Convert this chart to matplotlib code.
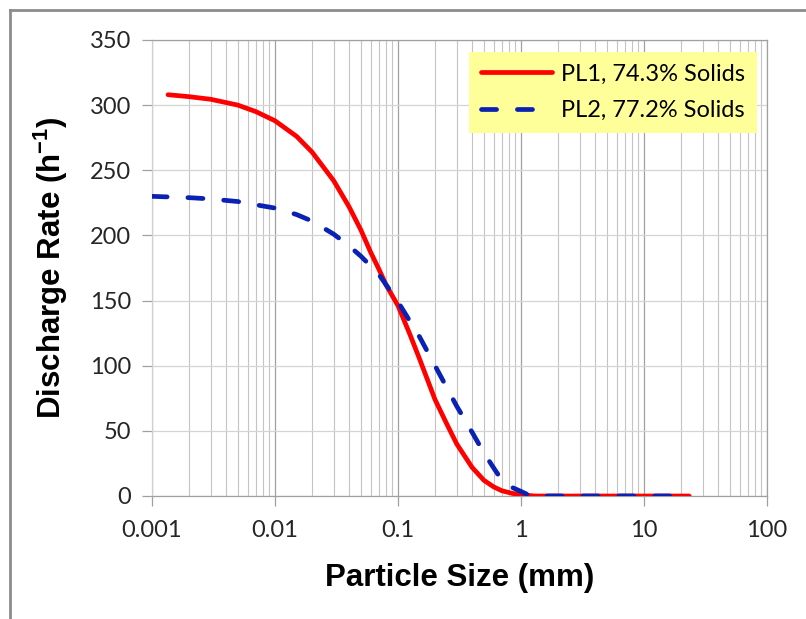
import matplotlib.pyplot as plt
from matplotlib.lines import Line2D
from matplotlib.ticker import LogLocator, FixedLocator, NullFormatter

# values
size_pl1 = [0.00135, 0.002, 0.003, 0.005, 0.007, 0.01, 0.015, 0.02, 0.03, 0.04,
            0.05, 0.06, 0.07, 0.08, 0.1, 0.125, 0.15, 0.2, 0.25, 0.3, 0.4, 0.5,
            0.6, 0.7, 0.85, 1.0, 1.3, 2, 5, 10, 23.3]
rate_pl1 = [308, 306.5, 304.5, 300, 295, 288, 276, 264, 242, 222,
            204, 187, 174, 162, 146, 124, 105, 74, 55, 40, 22, 12,
            7, 4, 2, 1, 0, 0, 0, 0, 0]

size_pl2 = [0.001, 0.002, 0.003, 0.005, 0.007, 0.01, 0.015, 0.02, 0.03, 0.04,
            0.05, 0.07, 0.1, 0.15, 0.2, 0.3, 0.4, 0.5, 0.6, 0.7, 0.85, 1.0,
            1.2, 2, 5, 10, 22]
rate_pl2 = [230, 229, 228, 226, 223.5, 221, 216, 211, 201, 192,
            184, 170, 149, 122, 100, 69, 49, 33, 21.5, 12, 6.5, 3.5,
            0, 0, 0, 0, 0]

labels = ["PL1, 74.3% Solids", "PL2, 77.2% Solids"]
x_ticks = [0.001, 0.01, 0.1, 1, 10, 100]
x_tick_labels = ["0.001", "0.01", "0.1", "1", "10", "100"]
y_ticks = [0, 50, 100, 150, 200, 250, 300, 350]

tick_font = "Lato"
label_font = "Liberation Sans"

fig = plt.figure(figsize=(8.06, 6.19), dpi=100)
ax = fig.add_axes([152 / 806, 1 - 496 / 619, 615 / 806, 456 / 619])

ax.plot(size_pl1, rate_pl1, color="#ff0000", lw=3.4, label=labels[0],
        solid_capstyle="round", solid_joinstyle="round", zorder=3)
ax.plot(size_pl2, rate_pl2, color="#0a22b4", lw=3.4, label=labels[1],
        linestyle=(0, (3.2, 4.4)), dash_capstyle="round",
        dash_joinstyle="round", zorder=3)

ax.set_xscale("log")
ax.set_xlim(0.001, 100)
ax.set_ylim(0, 350)
ax.xaxis.set_major_locator(FixedLocator(x_ticks))
ax.set_xticks(x_ticks, x_tick_labels)
ax.xaxis.set_minor_locator(LogLocator(base=10, subs=range(2, 10)))
ax.xaxis.set_minor_formatter(NullFormatter())
ax.set_yticks(y_ticks)

ax.grid(True, which="major", axis="x", color="#a0a0a0", lw=0.9)
ax.grid(True, which="minor", axis="x", color="#c4c4c4", lw=0.8)
ax.grid(True, which="major", axis="y", color="#d4d4d4", lw=0.9)
ax.set_axisbelow(True)

for side in ["left", "right", "top", "bottom"]:
    ax.spines[side].set_color("#a0a0a0")
    ax.spines[side].set_linewidth(0.9)
ax.spines["left"].set_color("#d0d0d0")

ax.tick_params(axis="both", which="major", direction="out", length=7,
               color="#a0a0a0", width=0.9, labelsize=17)
ax.tick_params(axis="x", which="major", pad=10)
ax.tick_params(axis="y", which="major", pad=8)
ax.tick_params(axis="x", which="minor", length=0)
for lab in ax.get_xticklabels() + ax.get_yticklabels():
    lab.set_fontfamily(tick_font)
    lab.set_color("#262626")

ax.set_xlabel("Particle Size (mm)", fontsize=22.5, fontweight="bold",
              fontfamily=label_font, labelpad=16)
ax.set_ylabel("Discharge Rate (h$^{\\mathregular{-1}}$)", fontsize=22.5,
              fontweight="bold", fontfamily=label_font, labelpad=14)

leg = ax.legend(loc="upper right", bbox_to_anchor=(0.984, 0.974),
                borderaxespad=0, facecolor="#ffff99", edgecolor="none",
                framealpha=1, fancybox=False, handlelength=3.0,
                handletextpad=0.4, borderpad=0.5, labelspacing=0.65,
                prop={"family": tick_font, "size": 17})
leg.get_frame().set_linewidth(0)

# outer frame of the chart area (top and left edges only visible)
fig.add_artist(Line2D([10 / 806, 1], [1 - 10 / 619, 1 - 10 / 619],
                      color="#8c8c8c", lw=2, transform=fig.transFigure))
fig.add_artist(Line2D([10 / 806, 10 / 806], [0, 1 - 10 / 619],
                      color="#8c8c8c", lw=2, transform=fig.transFigure))

fig.savefig("out.png", dpi=100)
